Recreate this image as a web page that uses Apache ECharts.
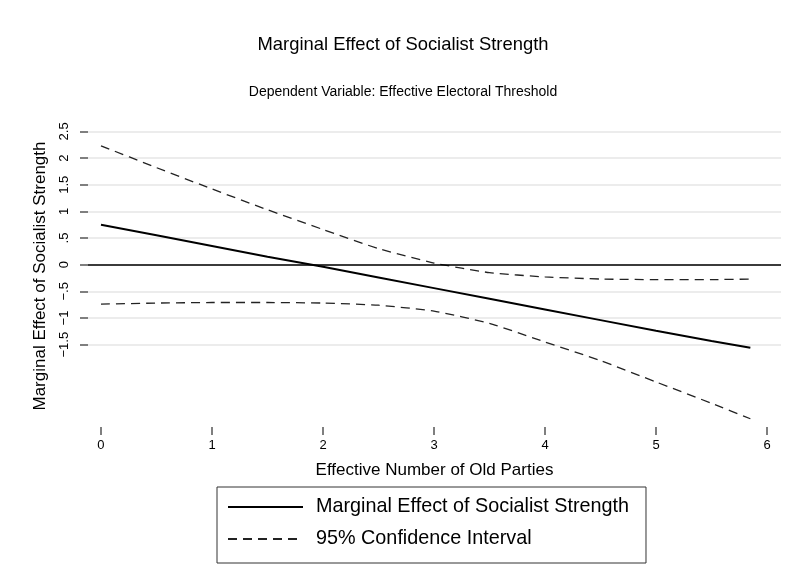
<!DOCTYPE html>
<html>
<head>
<meta charset="utf-8">
<script src="https://cdn.jsdelivr.net/npm/echarts@6/dist/echarts.min.js"></script>
<style>
  html, body { margin: 0; padding: 0; background: #fff; }
  #chart { width: 787px; height: 580px; }
</style>
</head>
<body>
<div id="chart"></div>
<script>
// Effective number of old parties (x) at which the effect is evaluated
var parties = [0, 0.5, 1, 1.5, 2, 2.5, 3, 3.5, 4, 4.5, 5, 5.5, 5.85];
// Point estimate of the marginal effect
var effect = [0.75, 0.55, 0.35, 0.15, -0.04, -0.24, -0.44, -0.64, -0.84, -1.04, -1.24, -1.43, -1.56];
// Upper and lower bounds of the 95% confidence interval
var upperCI = [2.23, 1.82, 1.42, 1.03, 0.66, 0.30, 0.03, -0.15, -0.23, -0.27, -0.28, -0.28, -0.27];
var lowerCI = [-0.74, -0.72, -0.71, -0.71, -0.72, -0.76, -0.87, -1.10, -1.45, -1.80, -2.20, -2.60, -2.89];
// Axis ticks
var xTicks = [0, 1, 2, 3, 4, 5, 6];
var yTicks = [-1.5, -1, -0.5, 0, 0.5, 1, 1.5, 2, 2.5];
var yTickLabels = ['\u22121.5', '\u22121', '\u2212.5', '0', '.5', '1', '1.5', '2', '2.5'];

var FONT = 'Liberation Sans, Arial, Helvetica, sans-serif';

function pairs(xs, ys) {
  return xs.map(function (x, i) { return [x, ys[i]]; });
}

var chart = echarts.init(document.getElementById('chart'), null, { renderer: 'canvas' });

var dashed = { color: '#222', width: 1.3, type: [9, 6] };

chart.setOption({
  animation: false,
  backgroundColor: '#ffffff',
  textStyle: { fontFamily: FONT },
  title: [
    {
      text: 'Marginal Effect of Socialist Strength',
      left: 398, top: 31, textAlign: 'center',
      textStyle: { fontFamily: FONT, fontSize: 18.4, fontWeight: 'normal', color: '#000' }
    },
    {
      text: 'Dependent Variable: Effective Electoral Threshold',
      left: 398, top: 80, textAlign: 'center',
      textStyle: { fontFamily: FONT, fontSize: 14, fontWeight: 'normal', color: '#000' }
    }
  ],
  grid: { left: 88, right: 6, top: 125, bottom: 153, containLabel: false },
  xAxis: {
    type: 'value',
    min: -0.117, max: 6.126,
    axisLine: { show: false, onZero: false },
    axisTick: {
      show: true, length: 8, inside: false,
      customValues: xTicks,
      lineStyle: { color: '#555', width: 1.5 }
    },
    axisLabel: {
      customValues: xTicks,
      margin: 12,
      fontFamily: FONT, fontSize: 13, color: '#000'
    },
    splitLine: { show: false }
  },
  yAxis: {
    type: 'value',
    min: -3.045, max: 2.62,
    axisLine: { show: false, onZero: false },
    axisTick: {
      show: true, length: 8,
      customValues: yTicks,
      lineStyle: { color: '#555', width: 1.5 }
    },
    axisLabel: {
      customValues: yTicks,
      rotate: 90,
      margin: 17,
      fontFamily: FONT, fontSize: 13, color: '#000',
      formatter: function (v) {
        var i = yTicks.indexOf(Math.round(v * 10) / 10);
        return i >= 0 ? yTickLabels[i] : '';
      }
    },
    splitLine: {
      show: true,
      lineStyle: { color: '#e6e6e6', width: 1.5 }
    }
  },
  legend: {
    orient: 'vertical',
    left: 217, top: 487,
    padding: [10, 17, 14, 10],
    itemGap: 12,
    itemWidth: 75,
    itemHeight: 14,
    borderColor: '#333', borderWidth: 1,
    itemStyle: { opacity: 0 },
    textStyle: { fontFamily: FONT, fontSize: 19.8, color: '#000', padding: [0, 0, 0, 8] },
    data: ['Marginal Effect of Socialist Strength', '95% Confidence Interval']
  },
  graphic: [
    {
      type: 'text',
      x: 40, y: 276, rotation: Math.PI / 2,
      style: {
        text: 'Marginal Effect of Socialist Strength',
        font: '17px ' + FONT, fill: '#000',
        align: 'center', verticalAlign: 'middle'
      }
    },
    {
      type: 'text',
      x: 434.5, y: 470,
      style: {
        text: 'Effective Number of Old Parties',
        font: '17px ' + FONT, fill: '#000',
        align: 'center', verticalAlign: 'middle'
      }
    }
  ],
  series: [
    {
      name: 'Marginal Effect of Socialist Strength',
      type: 'line',
      data: pairs(parties, effect),
      symbol: 'none',
      lineStyle: { color: '#000', width: 2 },
      itemStyle: { color: '#000', opacity: 0 },
      z: 3,
      markLine: {
        silent: true,
        symbol: ['none', 'none'],
        label: { show: false },
        lineStyle: { color: '#000', width: 1.5, type: 'solid', opacity: 1 },
        data: [{ yAxis: 0 }]
      }
    },
    {
      name: '95% Confidence Interval',
      type: 'line',
      data: pairs(parties, upperCI),
      symbol: 'none',
      smooth: 0.15,
      lineStyle: dashed,
      itemStyle: { color: '#222', opacity: 0 },
      z: 3
    },
    {
      name: '95% Confidence Interval',
      type: 'line',
      data: pairs(parties, lowerCI),
      symbol: 'none',
      smooth: 0.15,
      lineStyle: dashed,
      itemStyle: { color: '#222', opacity: 0 },
      z: 3
    }
  ]
});
</script>
</body>
</html>
